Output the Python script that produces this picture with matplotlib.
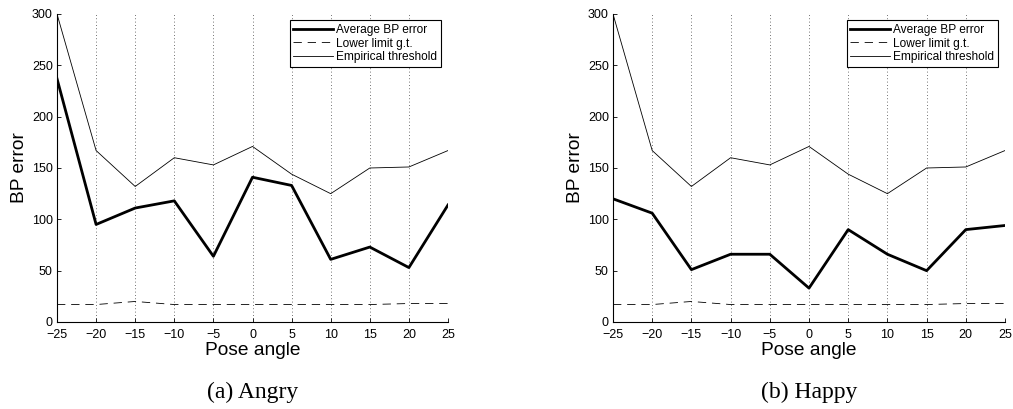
import matplotlib
matplotlib.use("Agg")
import matplotlib.pyplot as plt

pose_angles = [-25, -20, -15, -10, -5, 0, 5, 10, 15, 20, 25]
angry_avg = [237, 95, 111, 118, 64, 141, 133, 61, 73, 53, 114]
happy_avg = [120, 106, 51, 66, 66, 33, 90, 66, 50, 90, 94]
lower_limit = [17, 17, 20, 17, 17, 17, 17, 17, 17, 18, 18]
empirical = [300, 167, 132, 160, 153, 171, 144, 125, 150, 151, 167]
captions = ["(a) Angry", "(b) Happy"]
legend_labels = ["Average BP error", "Lower limit g.t.", "Empirical threshold"]
yticks = [0, 50, 100, 150, 200, 250, 300]

plt.rcParams['font.family'] = ['Liberation Sans', 'DejaVu Sans']

W, H = 1013, 409
fig = plt.figure(figsize=(W / 100, H / 100), dpi=100)

axes_px = [(57, 448), (613, 1005)]
top_px, bot_px = 14, 322

for (x0, x1), avg, cap in zip(axes_px, [angry_avg, happy_avg], captions):
    ax = fig.add_axes([x0 / W, 1 - bot_px / H, (x1 - x0) / W, (bot_px - top_px) / H])
    ax.plot(pose_angles, avg, color='black', lw=2.0, label=legend_labels[0])
    ax.plot(pose_angles, lower_limit, color='black', lw=0.6, ls=(0, (10, 7)), label=legend_labels[1])
    ax.plot(pose_angles, empirical, color='black', lw=0.6, label=legend_labels[2])
    ax.set_xlim(-25, 25)
    ax.set_ylim(0, 300)
    ax.set_xticks(pose_angles)
    ax.set_xticklabels([str(a).replace('-', '\u2212') for a in pose_angles])
    ax.set_yticks(yticks)
    for a in pose_angles[1:]:
        ax.axvline(a, color='#444444', lw=0.6, ls=(0, (1, 3)), zorder=0)
    ax.spines['top'].set_visible(False)
    ax.spines['right'].set_visible(False)
    for s in ['left', 'bottom']:
        ax.spines[s].set_linewidth(0.8)
    ax.tick_params(direction='in', length=3, width=0.6, labelsize=9, pad=3,
                   top=False, right=False)
    ax.tick_params(axis='x', pad=5)
    ax.set_xlabel("Pose angle", fontsize=13.8, labelpad=1)
    ax.set_ylabel("BP error", fontsize=13.8, labelpad=3)
    leg = ax.legend(loc='upper right', bbox_to_anchor=(0.982, 0.98), fontsize=8.6,
                    frameon=True, fancybox=False, edgecolor='black', framealpha=1,
                    handlelength=3.3, handletextpad=0.3, borderpad=0.3,
                    labelspacing=0.15, borderaxespad=0)
    leg.get_frame().set_linewidth(0.8)
    cx = (x0 + x1) / 2 / W
    fig.text(cx, 1 - 392 / H, cap, ha='center', va='center', fontsize=17,
             family='Liberation Serif')

fig.savefig("out.png", dpi=100)
